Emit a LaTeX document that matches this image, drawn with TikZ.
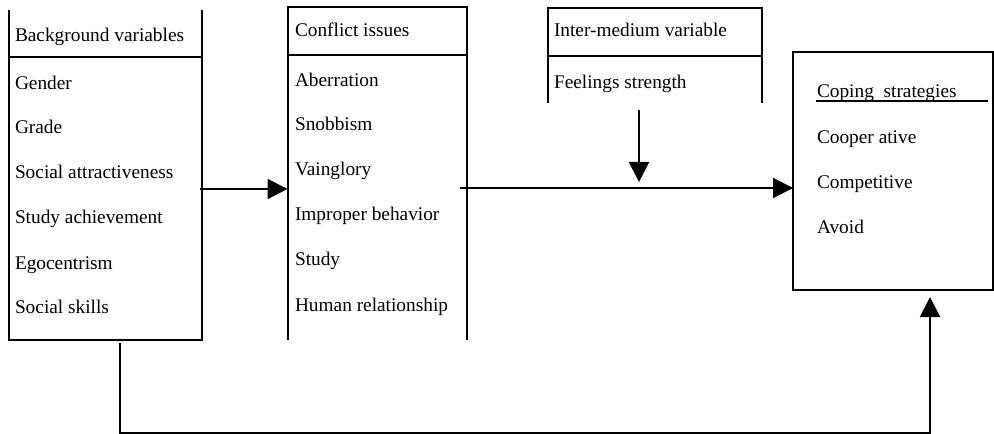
\documentclass[tikz,border=0pt]{standalone}
\usepackage{fontspec}
\setmainfont{Liberation Serif}
\usetikzlibrary{arrows.meta}
\begin{document}
\begin{tikzpicture}[x=0.75pt,y=-0.75pt,line width=1.5pt,
  txt/.style={anchor=base west,inner sep=0pt,font=\fontsize{14.5}{17}\selectfont},
  tip/.style={-{Triangle[length=15pt,width=15pt]}}]
\useasboundingbox (0,0) rectangle (994,434);
% Box 1: background variables (open top)
\draw (9,10) -- (9,340) -- (202,340) -- (202,10);
\draw (9,57) -- (202,57);
\node[txt] (bg) at (14,42) {Background variables};
\node[txt] (gender) at (14,90) {Gender};
\node[txt] (grade) at (14,134) {Grade};
\node[txt] (social) at (14,179) {Social attractiveness};
\node[txt] (study1) at (14,224) {Study achievement};
\node[txt] (ego) at (14,269) {Egocentrism};
\node[txt] (skills) at (14,313) {Social skills};
% Box 2: conflict issues (open bottom)
\draw (288,340) -- (288,7) -- (467,7) -- (467,340);
\draw (288,55) -- (467,55);
\node[txt] (ci) at (294,37) {Conflict issues};
\node[txt] (aber) at (294,87) {Aberration};
\node[txt] (snob) at (294,131) {Snobbism};
\node[txt] (vain) at (294,176) {Vainglory};
\node[txt] (impr) at (294,221) {Improper behavior};
\node[txt] (study2) at (294,266) {Study};
\node[txt] (human) at (294,311) {Human relationship};
% Box 3: inter-medium variable (open bottom)
\draw (548,103) -- (548,8) -- (762,8) -- (762,103);
\draw (548,56) -- (762,56);
\node[txt] (im) at (553,37) {Inter-medium variable};
\node[txt] (feel) at (553,89) {Feelings strength};
% Box 4: coping strategies
\draw (793,52) rectangle (992.5,290);
\node[txt] (cop) at (816,98) {Coping\ \ strategies};
\draw[line width=1pt] (816,101) -- (988,101);
\node[txt] (coop) at (816,144) {Cooper ative};
\node[txt] (comp) at (816,189) {Competitive};
\node[txt] (avoid) at (816,234) {Avoid};
% connector anchors
\coordinate (b1out) at (200,189);
\coordinate (b2in) at (287.5,189);
\coordinate (b2out) at (460,188);
\coordinate (b4in) at (793,188);
\coordinate (b3out) at (639,110);
\coordinate (mid) at (639,182);
\coordinate (b1bot) at (120,343);
\coordinate (c1) at (120,432.5);
\coordinate (c2) at (930,432.5);
\coordinate (b4bot) at (930,297);
% connectors
\draw[tip] (b1out) -- (b2in);
\draw[tip] (b2out) -- (b4in);
\draw[tip] (b3out) -- (mid);
\draw[tip] (b1bot) -- (c1) -- (c2) -- (b4bot);
\end{tikzpicture}
\end{document}
